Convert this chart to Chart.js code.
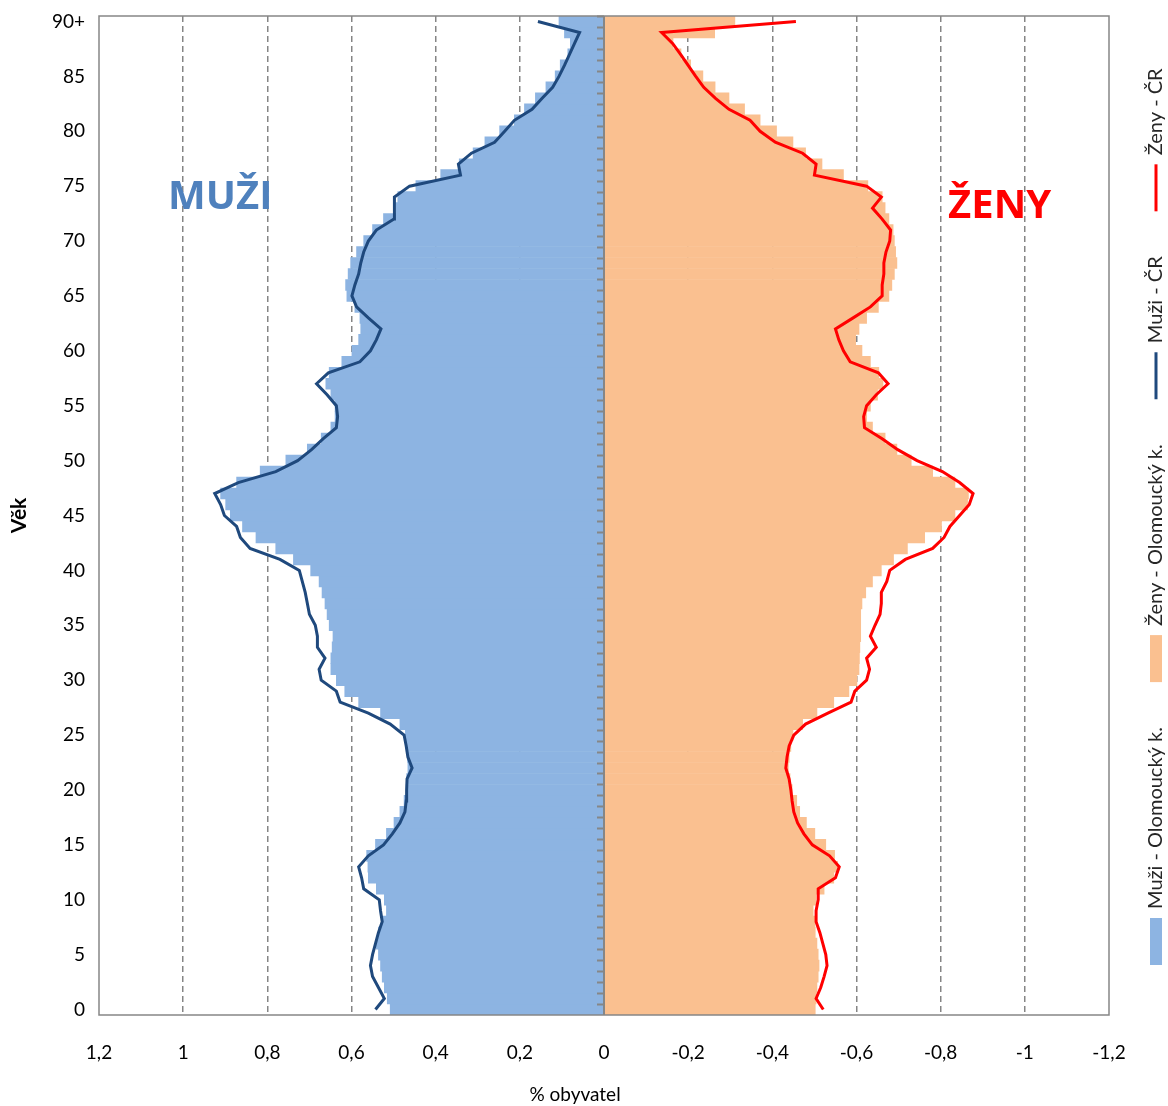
<!DOCTYPE html>
<html lang="cs">
<head>
<meta charset="utf-8">
<title>Věková struktura obyvatel</title>
<script src="https://cdn.jsdelivr.net/npm/chart.js@4.4.0/dist/chart.umd.min.js"></script>
<style>
  html, body { margin: 0; padding: 0; background: #fff; }
</style>
</head>
<body>
<canvas id="pyramid" width="1168" height="1106"></canvas>
<script>
// Age categories (0 .. 90+)
const ages = ['0','1','2','3','4','5','6','7','8','9','10','11','12','13','14','15','16','17','18','19',
  '20','21','22','23','24','25','26','27','28','29','30','31','32','33','34','35','36','37','38','39',
  '40','41','42','43','44','45','46','47','48','49','50','51','52','53','54','55','56','57','58','59',
  '60','61','62','63','64','65','66','67','68','69','70','71','72','73','74','75','76','77','78','79',
  '80','81','82','83','84','85','86','87','88','89','90+'];

// labels shown on the age axis
const ageTickLabels = ['0','5','10','15','20','25','30','35','40','45','50','55','60','65','70','75','80','85','90+'];

// % of population - Olomoucký kraj, men (positive = left side)
const menOlomouc = [0.508,0.515,0.522,0.527,0.531,0.536,0.541,0.536,0.527,0.517,
  0.522,0.541,0.560,0.561,0.564,0.543,0.517,0.499,0.485,0.475,
  0.470,0.469,0.466,0.467,0.470,0.472,0.485,0.531,0.583,0.616,
  0.636,0.649,0.649,0.646,0.644,0.653,0.658,0.663,0.670,0.677,
  0.697,0.738,0.780,0.827,0.859,0.888,0.899,0.911,0.873,0.817,
  0.756,0.705,0.672,0.649,0.639,0.639,0.649,0.661,0.653,0.623,
  0.599,0.583,0.578,0.580,0.592,0.611,0.614,0.608,0.602,0.588,
  0.571,0.550,0.524,0.494,0.490,0.447,0.388,0.344,0.311,0.283,
  0.248,0.213,0.189,0.163,0.138,0.116,0.104,0.086,0.080,0.094,0.107];

// % of population - Olomoucký kraj, women (negative = right side)
const womenOlomouc = [-0.502,-0.504,-0.506,-0.509,-0.511,-0.509,-0.506,-0.502,-0.501,-0.497,
  -0.504,-0.523,-0.546,-0.555,-0.548,-0.527,-0.501,-0.481,-0.465,-0.458,
  -0.447,-0.442,-0.438,-0.440,-0.444,-0.449,-0.472,-0.506,-0.546,-0.582,
  -0.601,-0.606,-0.607,-0.608,-0.610,-0.610,-0.610,-0.613,-0.622,-0.638,
  -0.659,-0.688,-0.721,-0.762,-0.802,-0.834,-0.864,-0.866,-0.834,-0.781,
  -0.730,-0.696,-0.668,-0.638,-0.624,-0.633,-0.650,-0.663,-0.653,-0.633,
  -0.613,-0.598,-0.606,-0.624,-0.652,-0.677,-0.684,-0.690,-0.696,-0.693,
  -0.690,-0.687,-0.677,-0.668,-0.661,-0.627,-0.569,-0.518,-0.479,-0.449,
  -0.410,-0.371,-0.334,-0.297,-0.264,-0.235,-0.206,-0.183,-0.164,-0.263,-0.311];

// % of population - Czech Republic, men
const menCR = [0.543,0.522,0.536,0.550,0.555,0.550,0.543,0.536,0.527,0.531,
  0.534,0.571,0.576,0.583,0.560,0.524,0.503,0.485,0.473,0.470,
  0.469,0.468,0.456,0.466,0.470,0.475,0.508,0.560,0.627,0.636,
  0.672,0.677,0.663,0.681,0.681,0.686,0.700,0.705,0.710,0.717,
  0.724,0.770,0.841,0.864,0.873,0.902,0.911,0.925,0.869,0.780,
  0.728,0.695,0.667,0.636,0.633,0.636,0.658,0.683,0.655,0.580,
  0.555,0.541,0.530,0.560,0.588,0.599,0.592,0.583,0.578,0.571,
  0.560,0.541,0.499,0.499,0.497,0.462,0.341,0.346,0.315,0.260,
  0.236,0.213,0.171,0.147,0.122,0.107,0.094,0.082,0.070,0.058,0.157];

// % of population - Czech Republic, women
const womenCR = [-0.521,-0.504,-0.515,-0.523,-0.530,-0.527,-0.520,-0.513,-0.504,-0.504,
  -0.509,-0.509,-0.550,-0.559,-0.536,-0.495,-0.475,-0.460,-0.451,-0.447,
  -0.444,-0.440,-0.432,-0.435,-0.440,-0.451,-0.479,-0.532,-0.587,-0.596,
  -0.624,-0.631,-0.624,-0.647,-0.633,-0.644,-0.656,-0.659,-0.659,-0.672,
  -0.679,-0.716,-0.781,-0.808,-0.822,-0.845,-0.868,-0.877,-0.845,-0.804,
  -0.744,-0.698,-0.661,-0.619,-0.617,-0.624,-0.647,-0.675,-0.652,-0.585,
  -0.569,-0.558,-0.550,-0.592,-0.633,-0.661,-0.661,-0.665,-0.665,-0.670,
  -0.679,-0.681,-0.661,-0.638,-0.659,-0.624,-0.500,-0.504,-0.472,-0.407,
  -0.371,-0.347,-0.297,-0.265,-0.237,-0.218,-0.200,-0.182,-0.163,-0.137,-0.456];

const gridGrey = '#858585';
const axisGrey = '#868686';

// draws the plot frame, the zero axis with its tick marks, the MUŽI / ŽENY labels,
// the x axis title and the vertical legend on the right
const pyramidDecor = {
    id: 'pyramidDecor',
    afterDatasetsDraw(chart) {
        const { ctx, chartArea: a, scales: { x, y } } = chart;
        ctx.save();

        ctx.strokeStyle = axisGrey;
        ctx.lineWidth = 1.5;
        ctx.strokeRect(a.left, a.top, a.right - a.left, a.bottom - a.top);

        const x0 = x.getPixelForValue(0);
        ctx.lineWidth = 2;
        ctx.beginPath();
        ctx.moveTo(x0, a.top);
        ctx.lineTo(x0, a.bottom);
        ctx.stroke();

        const step = Math.abs(y.getPixelForValue(1) - y.getPixelForValue(0));
        ctx.beginPath();
        for (let i = 0; i < ages.length; i++) {
            const py = Math.round(y.getPixelForValue(i) - step / 2) + 0.5;
            ctx.moveTo(x0 - 7, py);
            ctx.lineTo(x0, py);
        }
        ctx.stroke();

        ctx.textAlign = 'center';
        ctx.textBaseline = 'middle';
        ctx.font = 'bold 40px "Open Sans"';
        ctx.fillStyle = '#4F81BD';
        ctx.fillText('MUŽI', x.getPixelForValue(0.912), y.getPixelForValue(74));
        ctx.fillStyle = '#FF0000';
        ctx.fillText('ŽENY', x.getPixelForValue(-0.94), y.getPixelForValue(73.1));
        ctx.restore();
    },
    afterDraw(chart) {
        const { ctx, chartArea: a } = chart;
        ctx.save();

        // axis title, sitting a little left of the plot centre as in the original
        ctx.font = '19px Lato';
        ctx.fillStyle = '#000';
        ctx.textAlign = 'center';
        ctx.textBaseline = 'middle';
        ctx.fillText('% obyvatel', (a.left + a.right) / 2 - 29, chart.height - 11);

        const lx = a.right + 47;
        let yy = a.bottom - 50;
        ctx.font = '20px Lato';
        ctx.textAlign = 'left';
        chart.data.datasets.forEach(ds => {
            if (ds.type === 'line') {
                ctx.strokeStyle = ds.borderColor;
                ctx.lineWidth = 3;
                ctx.beginPath();
                ctx.moveTo(lx, yy);
                ctx.lineTo(lx, yy - 47);
                ctx.stroke();
            } else {
                ctx.fillStyle = ds.backgroundColor;
                ctx.fillRect(lx - 6, yy - 47, 12, 47);
            }
            yy -= 56;
            ctx.save();
            ctx.translate(lx, yy);
            ctx.rotate(-Math.PI / 2);
            ctx.fillStyle = '#262626';
            ctx.fillText(ds.label, 0, 0);
            ctx.restore();
            yy -= ctx.measureText(ds.label).width + 45;
        });
        ctx.restore();
    }
};

new Chart(document.getElementById('pyramid'), {
    type: 'bar',
    data: {
        labels: ages,
        datasets: [{
            label: 'Muži - Olomoucký k.',
            data: menOlomouc,
            backgroundColor: '#8DB4E2',
            grouped: false,
            barPercentage: 1,
            categoryPercentage: 1,
            order: 2
        }, {
            label: 'Ženy - Olomoucký k.',
            data: womenOlomouc,
            backgroundColor: '#FAC090',
            grouped: false,
            barPercentage: 1,
            categoryPercentage: 1,
            order: 2
        }, {
            type: 'line',
            label: 'Muži - ČR',
            data: menCR,
            borderColor: '#1F497D',
            borderWidth: 3,
            pointRadius: 0,
            tension: 0,
            fill: false,
            order: 1
        }, {
            type: 'line',
            label: 'Ženy - ČR',
            data: womenCR,
            borderColor: '#FF0000',
            borderWidth: 3,
            pointRadius: 0,
            tension: 0,
            fill: false,
            order: 1
        }]
    },
    options: {
        indexAxis: 'y',
        responsive: false,
        animation: false,
        layout: {
            padding: { top: 16, right: 59, left: 0, bottom: 0 }
        },
        plugins: {
            legend: { display: false },
            tooltip: { enabled: false }
        },
        scales: {
            x: {
                type: 'linear',
                min: -1.2,
                max: 1.2,
                reverse: true,
                afterFit: function(scale) {
                    scale.height = 91;
                    scale.paddingLeft = 0;
                    scale.paddingRight = 0;
                },
                border: { display: false, dash: [6, 4] },
                grid: {
                    drawTicks: false,
                    lineWidth: 1.5,
                    color: ctx => {
                        const v = Math.round(ctx.tick.value * 10) / 10;
                        return (v === 0 || Math.abs(v) === 1.2) ? 'rgba(0,0,0,0)' : gridGrey;
                    }
                },
                ticks: {
                    stepSize: 0.2,
                    padding: 26,
                    color: '#000',
                    font: { family: 'Lato', size: 19 },
                    callback: v => String(Math.round(v * 10) / 10).replace('.', ',')
                }
            },
            y: {
                reverse: true,
                afterFit: function(scale) {
                    scale.width = 99;
                    scale.paddingTop = 0;
                    scale.paddingBottom = 0;
                },
                border: { display: false },
                grid: { display: false, drawTicks: false },
                ticks: {
                    autoSkip: false,
                    padding: 14,
                    color: '#000',
                    font: { family: 'Lato', size: 19 },
                    callback: function(v) {
                        const lab = this.getLabelForValue(v);
                        return ageTickLabels.includes(lab) ? lab : '';
                    }
                },
                title: {
                    display: true,
                    text: 'Věk',
                    color: '#000',
                    font: { family: 'Lato', size: 21, weight: 'bold' },
                    padding: { top: 7, bottom: 0 }
                }
            }
        }
    },
    plugins: [pyramidDecor]
});
</script>
</body>
</html>
